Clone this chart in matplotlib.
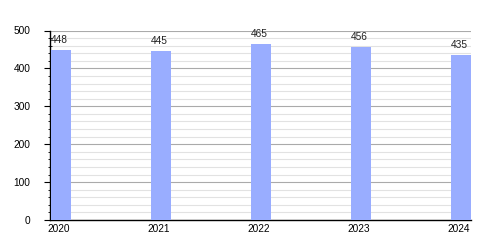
import matplotlib
matplotlib.use("Agg")
import matplotlib.pyplot as plt
from matplotlib.ticker import MultipleLocator

years = [2020, 2021, 2022, 2023, 2024]
values = [448, 445, 465, 456, 435]
yticks = [0, 100, 200, 300, 400, 500]

plt.rcParams['font.family'] = ['Liberation Sans', 'DejaVu Sans']

fig = plt.figure(figsize=(5, 2.5), dpi=100)
ax = fig.add_axes([0.1, 0.12, 0.842, 0.758])

bar_w = 0.2
ax.bar(years, values, width=bar_w, align='edge', color='#99adff', zorder=3)
for x, v in zip(years, values):
    ax.text(x + 0.08, v + 13, str(v), ha='center', va='bottom', fontsize=7.3, color='#222222', zorder=4)

ax.set_xlim(years[0] - 0.01, years[-1] + bar_w)
ax.set_ylim(0, 500)
ax.set_yticks(yticks)
ax.yaxis.set_minor_locator(MultipleLocator(20))
ax.set_xticks([y + 0.08 for y in years])
ax.set_xticklabels([str(y) for y in years])

ax.grid(axis='y', which='major', color='#aaaaaa', linewidth=0.8, zorder=0)
ax.grid(axis='y', which='minor', color='#e2e2e2', linewidth=0.8, zorder=0)

for s in ['top', 'right']:
    ax.spines[s].set_visible(False)
ax.spines['left'].set_color('black')
ax.spines['bottom'].set_color('black')
ax.spines['left'].set_linewidth(1)
ax.spines['bottom'].set_linewidth(1)

ax.tick_params(axis='y', which='major', length=4, width=0.8, labelsize=7.3, pad=10)
ax.tick_params(axis='y', which='minor', length=3, width=0.6, direction='inout')
ax.tick_params(axis='x', length=0, labelsize=7.3, pad=3)

fig.savefig('out.png', dpi=100)
